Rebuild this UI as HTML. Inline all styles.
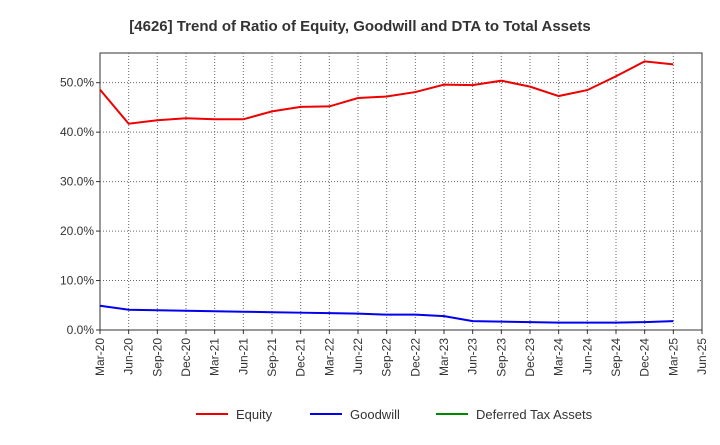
<!DOCTYPE html>
<html><head><meta charset="utf-8"><style>
body{margin:0;background:#fff;font-family:"Liberation Sans",sans-serif;}
</style></head><body>
<svg id="chart" width="720" height="440" xmlns="http://www.w3.org/2000/svg">
<text x="360" y="31" text-anchor="middle" font-size="15" font-weight="bold" fill="#333">[4626]  Trend of Ratio of Equity, Goodwill and DTA to Total Assets</text>
<g id="grid"></g><g id="axes"></g><g id="series"></g>
<g>
<line x1="196" y1="414" x2="228" y2="414" stroke="#ee0000" stroke-width="2"/>
<text x="236" y="419" font-size="13" fill="#333">Equity</text>
<line x1="310" y1="414" x2="342" y2="414" stroke="#0000ee" stroke-width="2"/>
<text x="350" y="419" font-size="13" fill="#333">Goodwill</text>
<line x1="436" y1="414" x2="468" y2="414" stroke="#008800" stroke-width="2"/>
<text x="476" y="419" font-size="13" fill="#333">Deferred Tax Assets</text>
</g>
</svg>
<script>
const xLabels=["Mar-20","Jun-20","Sep-20","Dec-20","Mar-21","Jun-21","Sep-21","Dec-21","Mar-22","Jun-22","Sep-22","Dec-22","Mar-23","Jun-23","Sep-23","Dec-23","Mar-24","Jun-24","Sep-24","Dec-24","Mar-25","Jun-25"];
const yTicks=[0,10,20,30,40,50];
const equity=[48.6,41.7,42.4,42.8,42.6,42.6,44.2,45.1,45.2,46.9,47.2,48.1,49.6,49.5,50.4,49.2,47.3,48.5,51.3,54.3,53.7];
const goodwill=[4.9,4.1,4.0,3.9,3.8,3.7,3.6,3.5,3.4,3.3,3.1,3.1,2.8,1.8,1.7,1.6,1.5,1.5,1.5,1.6,1.8];
const L=100,R=702,T=53,B=330,yMax=56;
const xS=i=>L+i*(R-L)/(xLabels.length-1);
const yS=v=>B-v*(B-T)/yMax;
const NS="http://www.w3.org/2000/svg";
function mk(t,a,p){const e=document.createElementNS(NS,t);for(const k in a)e.setAttribute(k,a[k]);p.appendChild(e);return e;}
const grid=document.getElementById('grid'),axes=document.getElementById('axes'),ser=document.getElementById('series');
mk('rect',{x:L,y:T,width:R-L,height:B-T,fill:'none',stroke:'#333'},grid);
xLabels.forEach((l,i)=>{const x=xS(i);
 if(i>0&&i<xLabels.length-1){const g=mk('line',{x1:x,y1:T,x2:x,y2:B,stroke:'#666','stroke-dasharray':'1,2'},grid);
 
 }
 mk('line',{x1:x,y1:B,x2:x,y2:B+4,stroke:'#333'},axes);
 const t=mk('text',{x:x+4,y:B+8,'font-size':12,fill:'#333','text-anchor':'end',transform:`rotate(-90 ${x+4} ${B+8})`},axes);
 t.textContent=l;
 
 });
yTicks.forEach(v=>{const y=yS(v);
 if(v>0){const g=mk('line',{x1:L,y1:y,x2:R,y2:y,stroke:'#666','stroke-dasharray':'1,2'},grid);
 
 }
 mk('line',{x1:L-4,y1:y,x2:L,y2:y,stroke:'#333'},axes);
 const t=mk('text',{x:L-6,y:y+4,'font-size':12,fill:'#333','text-anchor':'end'},axes);
 t.textContent=v.toFixed(1)+'%';
 
 });
function line(d,c,n){const p=mk('polyline',{points:d.map((v,i)=>xS(i)+','+yS(v)).join(' '),fill:'none',stroke:c,'stroke-width':2},ser);
 
 }
line(equity,'#ee0000','equity-line');
line(goodwill,'#0000ee','goodwill-line');
</script>
</body></html>
